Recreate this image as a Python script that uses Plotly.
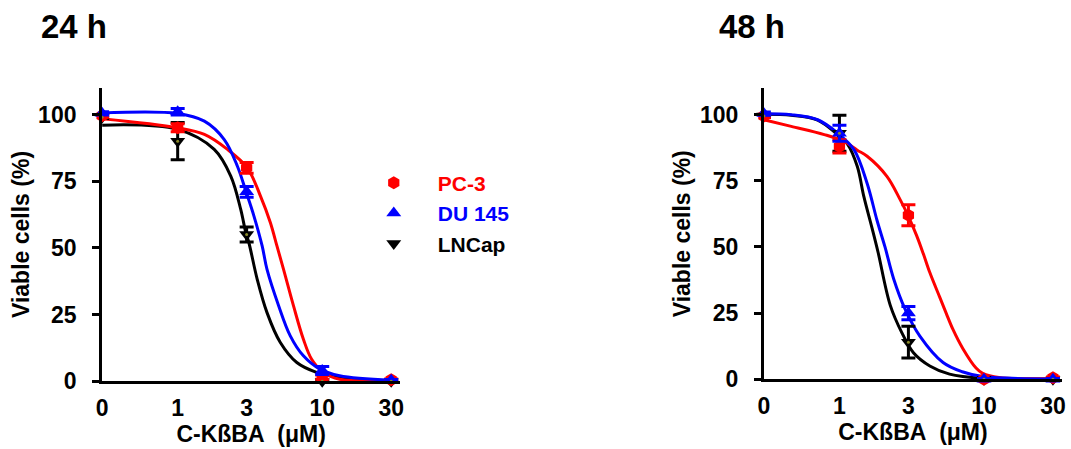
import numpy as np
import plotly.graph_objects as go

# ---------------- data ----------------
dose_pos = [0.3, 1, 3, 10, 30]          # "0" dose drawn at 0.3 on the log axis
dose_labels = ["0", "1", "3", "10", "30"]
y_ticks = [0, 25, 50, 75, 100]

# 24 h  (mean, SEM)
pc3_24 = [99.5, 95, 80, 1.5, 0.5]
pc3_24_err = [0.5, 1.5, 2, 0.8, 0.3]
du_24 = [100.5, 101, 71, 4.0, 0.3]
du_24_err = [0.5, 1.2, 2, 1.5, 0.3]
ln_24 = [99, 90, 55, 0, 0]
ln_24_err = [0.5, 7, 2.8, 0.2, 0.2]

# 48 h
pc3_48 = [99.5, 88, 62, 0, 0.5]
pc3_48_err = [0.5, 2.5, 4, 0.2, 0.3]
du_48 = [100.5, 93, 25, 0, 0]
du_48_err = [0.5, 3, 2.5, 0.2, 0.2]
ln_48 = [99.5, 93, 14, 0, 0]
ln_48_err = [0.5, 6.8, 6, 0.2, 0.2]

# fitted curves (concentration uM, % viable)
pc3_24_fit_x = [0.3, 1.0, 1.53, 2.21, 3.03, 3.74, 4.38, 4.86, 5.40, 6.33, 7.41, 8.45, 10.16, 13.2, 30]
pc3_24_fit_y = [98.4, 95.0, 92.5, 86.9, 80.0, 69.4, 59.4, 50.7, 41.9, 28.2, 15.7, 8.2, 3.3, 0.7, 0.2]
du_24_fit_x = [0.3, 1.0, 1.53, 2.10, 2.59, 2.96, 3.37, 3.84, 4.15, 5.00, 6.01, 7.41, 9.64, 13.2, 30]
du_24_fit_y = [100.6, 100.4, 97.5, 90.6, 80.6, 71.3, 61.9, 50.7, 41.9, 28.2, 17.0, 9.5, 4.5, 2.0, 0.3]
ln_24_fit_x = [0.3, 1.0, 1.79, 2.33, 2.73, 2.96, 3.11, 3.55, 4.15, 5.13, 6.67, 9.14, 13.2, 30]
ln_24_fit_y = [96.0, 94.4, 86.9, 76.9, 64.4, 55.7, 51.9, 38.2, 25.7, 14.5, 7.0, 3.3, 1.4, 0.1]

pc3_48_fit_x = [0.3, 0.464, 0.785, 1.077, 1.328, 1.555, 2.13, 2.63, 3.00, 3.42, 3.80, 4.22, 4.94, 5.49, 6.10, 7.15, 8.81, 9.80, 12.7, 30]
pc3_48_fit_y = [98.1, 95.6, 92.5, 89.9, 86.6, 84.3, 76.7, 67.9, 61.6, 54.3, 47.5, 40.3, 31.0, 24.8, 18.8, 11.5, 4.2, 2.2, 0.6, 0.2]
du_48_fit_x = [0.3, 0.464, 0.707, 0.969, 1.261, 1.555, 1.821, 2.066, 2.37, 2.85, 3.60, 5.21, 7.07, 9.80, 30]
du_48_fit_y = [100.4, 100.0, 98.1, 93.1, 86.8, 74.0, 60.0, 50.0, 38.0, 26.4, 16.3, 6.3, 2.8, 1.0, 0.1]
ln_48_fit_x = [0.3, 0.464, 0.707, 0.969, 1.134, 1.328, 1.476, 1.683, 1.85, 2.245, 2.70, 3.25, 4.22, 5.78, 9.80, 30]
ln_48_fit_y = [100.2, 99.8, 98.0, 92.5, 89.0, 80.5, 69.0, 57.0, 48.0, 28.0, 17.6, 10.0, 5.0, 1.9, 0.3, 0.0]

panel_titles = ["24 h", "48 h"]
series_names = ["PC-3", "DU 145", "LNCap"]
x_title = "C-KßBA\u00a0\u00a0(μM)"
y_title = "Viable cells (%)"

# ---------------- styles ----------------
RED, BLUE, BLACK = "#ff0000", "#0000ff", "#000000"
DOT = "#8a8a2a"
FONT = "Liberation Sans, Arial, sans-serif"
colors = [RED, BLUE, BLACK]
symbols = ["hexagon", "triangle-up", "triangle-down"]

fig = go.Figure()

panels = [
    dict(xa="x", ya="y",
         means=[pc3_24, du_24, ln_24], errs=[pc3_24_err, du_24_err, ln_24_err],
         fx=[pc3_24_fit_x, du_24_fit_x, ln_24_fit_x], fy=[pc3_24_fit_y, du_24_fit_y, ln_24_fit_y]),
    dict(xa="x2", ya="y2",
         means=[pc3_48, du_48, ln_48], errs=[pc3_48_err, du_48_err, ln_48_err],
         fx=[pc3_48_fit_x, du_48_fit_x, ln_48_fit_x], fy=[pc3_48_fit_y, du_48_fit_y, ln_48_fit_y]),
]

draw_order = [2, 0, 1]  # LNCap, PC-3, DU 145
for pi, p in enumerate(panels):
    for si in draw_order:
        fig.add_trace(go.Scatter(
            x=p["fx"][si], y=p["fy"][si], mode="lines",
            line=dict(color=colors[si], width=3, shape="spline", smoothing=1.0),
            xaxis=p["xa"], yaxis=p["ya"], showlegend=False, hoverinfo="skip"))
    for si in draw_order:
        fig.add_trace(go.Scatter(
            x=dose_pos, y=p["means"][si], mode="markers",
            name=f"<span style='color:{colors[si]}'>{series_names[si]}</span>",
            legendrank=si + 1,
            marker=dict(symbol=symbols[si], size=13, color=colors[si], line=dict(width=0)),
            error_y=dict(type="data", array=p["errs"][si], visible=True,
                         color=colors[si], thickness=3, width=7),
            xaxis=p["xa"], yaxis=p["ya"], cliponaxis=False,
            showlegend=(pi == 0)))
    fig.add_trace(go.Scatter(
        x=dose_pos, y=p["means"][2], mode="markers",
        marker=dict(symbol="circle", size=3, color=DOT),
        xaxis=p["xa"], yaxis=p["ya"], cliponaxis=False,
        showlegend=False, hoverinfo="skip"))

# reference pixel frame (1071 x 449); paper fractions derived from it
RW, RH = 1071, 449
W, H = 1071, 461
x_range = [np.log10(0.3), 1.54]
tickfont = dict(family=FONT, size=23, color="black", weight="bold")
titlefont = dict(family=FONT, size=23, color="black", weight="bold")

def xaxis(dom, anchor):
    return dict(domain=dom, anchor=anchor, type="log", range=x_range,
                tickvals=dose_pos, ticktext=dose_labels, ticks="",
                showline=True, linewidth=3, linecolor="black",
                showgrid=False, zeroline=False, tickfont=tickfont,
                ticklabelstandoff=4,
                title=dict(text=x_title, font=titlefont, standoff=4))

def yaxis(dom, anchor):
    return dict(domain=dom, anchor=anchor, range=[0, 110], tickvals=y_ticks,
                ticks="outside", ticklen=7, tickwidth=3, tickcolor="black",
                showline=True, linewidth=3, linecolor="black",
                showgrid=False, zeroline=False, tickfont=tickfont,
                ticklabelstandoff=11,
                title=dict(text=y_title, font=titlefont, standoff=3))

fig.update_layout(
    width=W, height=H, autosize=False,
    margin=dict(l=0, r=0, t=0, b=0),
    paper_bgcolor="white", plot_bgcolor="white",
    xaxis=xaxis([97 / RW, 398 / RW], "y"),
    yaxis=yaxis([1 - 382 / RH, 1 - 88 / RH], "x"),
    xaxis2=xaxis([765 / RW, 1066 / RW], "y2"),
    yaxis2=yaxis([1 - 380 / RH, 1 - 88.5 / RH], "x2"),
    legend=dict(x=347 / RW, y=1 - 163 / RH, xanchor="left", yanchor="top",
                font=dict(family=FONT, size=21, weight="bold"),
                itemwidth=78, bgcolor="rgba(0,0,0,0)", traceorder="normal"),
    annotations=[
        dict(text=panel_titles[0], x=33 / RW, y=1 - 27 / RH, xref="paper", yref="paper",
             xanchor="left", yanchor="middle", showarrow=False,
             font=dict(family=FONT, size=33, color="black", weight="bold")),
        dict(text=panel_titles[1], x=718 / RW, y=1 - 27 / RH, xref="paper", yref="paper",
             xanchor="left", yanchor="middle", showarrow=False,
             font=dict(family=FONT, size=33, color="black", weight="bold")),
    ],
)

page_fix = (
    "document.documentElement.style.margin='0px';"
    "document.body.style.margin='0px';"
)
fig.write_html("out.html", config={"displayModeBar": False}, post_script=page_fix)
